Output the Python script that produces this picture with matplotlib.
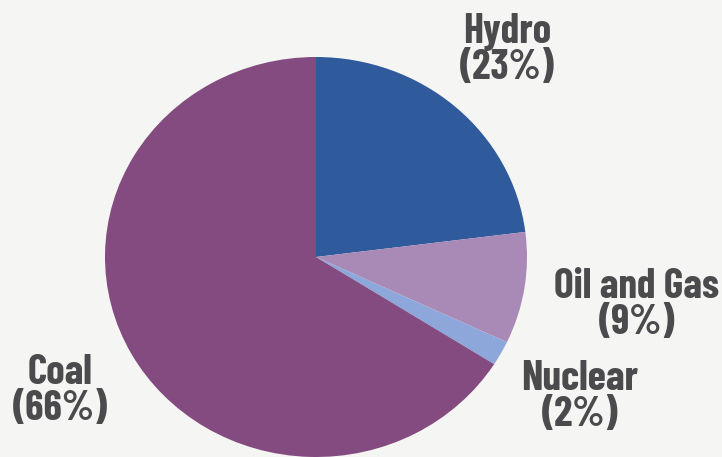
import numpy as np
import matplotlib.pyplot as plt

# energy sources, clockwise from 12 o'clock
sources = ["Hydro", "Oil and Gas", "Nuclear", "Coal"]
shares = [23, 9, 2, 66]
colors = ["#2f5b9d", "#a98ab6", "#8ea7da", "#844b80"]

W, H = 722, 457
bg = "#f5f5f3"

fig = plt.figure(figsize=(W / 100, H / 100), dpi=100, facecolor=bg)

# axes box = bounding box of the (slightly squashed) pie, in pixels
left, right, top, bottom = 105, 527, 57, 457
ax = fig.add_axes([left / W, 1 - bottom / H, (right - left) / W, (bottom - top) / H])
ax.set_facecolor(bg)
ax.pie(shares, colors=colors, startangle=90, counterclock=False,
       wedgeprops=dict(linewidth=0))
ax.set_aspect("auto")
ax.set_xlim(-1, 1)
ax.set_ylim(-1, 1)
ax.axis("off")

# label centres in pixels
label_pos = {"Hydro": (507, 50), "Oil and Gas": (637, 305),
             "Nuclear": (580, 397), "Coal": (60, 391)}
for name, pct in zip(sources, shares):
    x, y = label_pos[name]
    fig.text(x / W, 1 - y / H, f"{name}\n({pct}%)", ha="center", va="center",
             fontsize=30, fontweight="bold", color="#4b4b4d",
             family=["Barlow Condensed", "DejaVu Sans"], linespacing=0.92)

fig.savefig("out.png", dpi=100, facecolor=bg)
